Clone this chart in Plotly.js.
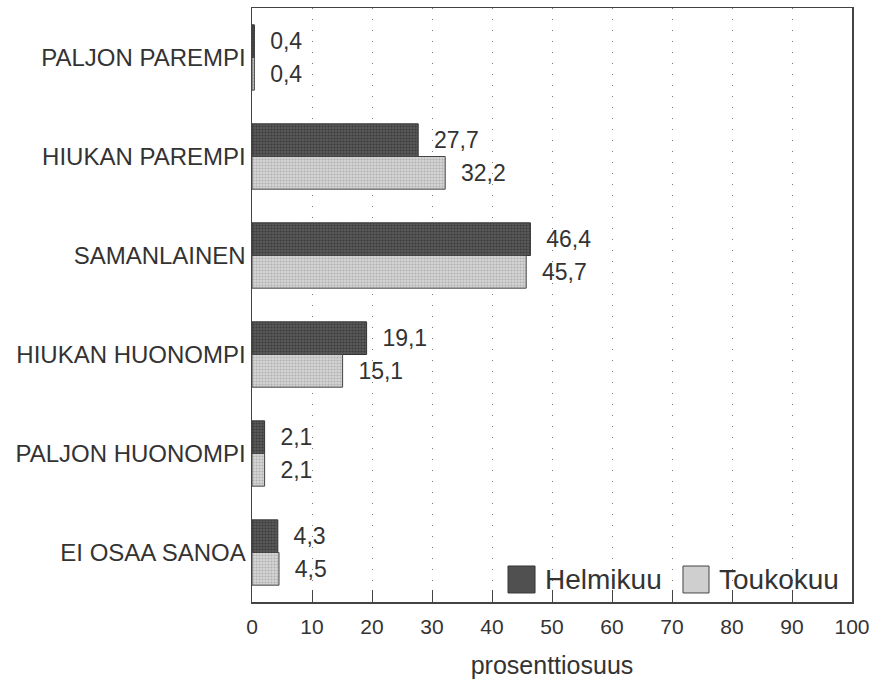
<!DOCTYPE html>
<html>
<head>
<meta charset="utf-8">
<script src="https://cdn.plot.ly/plotly-3.0.1.min.js"></script>
<style>html,body{margin:0;padding:0;background:#fff;}#chart{width:874px;height:679px;}</style>
</head>
<body>
<div id="chart"></div>
<script>
const categories = ["PALJON PAREMPI", "HIUKAN PAREMPI", "SAMANLAINEN", "HIUKAN HUONOMPI", "PALJON HUONOMPI", "EI OSAA SANOA"];
const seriesNames = ["Helmikuu", "Toukokuu"];
const helmikuu = [0.4, 27.7, 46.4, 19.1, 2.1, 4.3];
const toukokuu = [0.4, 32.2, 45.7, 15.1, 2.1, 4.5];
const xTicks = [0, 10, 20, 30, 40, 50, 60, 70, 80, 90, 100];
const xTitle = "prosenttiosuus";

const FONT = "Liberation Sans, Arial, Helvetica, sans-serif";
const fmt = v => "\u00a0\u00a0" + v.toFixed(1).replace(".", ",");

const styles = [
  {bg: "#5a5a5a", fg: "#3a3a3a", line: "#333333", swatch: "#505050"},
  {bg: "#d6d6d6", fg: "#b0b0b0", line: "#444444", swatch: "#cfcfcf"}
];

const traces = [helmikuu, toukokuu].map((vals, i) => ({
  type: "bar",
  orientation: "h",
  name: seriesNames[i],
  y: categories,
  x: vals,
  text: vals.map(fmt),
  textposition: "outside",
  textfont: {family: FONT, size: 23, color: "#333"},
  constraintext: "none",
  cliponaxis: false,
  hoverinfo: "x+y",
  marker: {
    color: styles[i].bg,
    line: {color: styles[i].line, width: 1},
    pattern: {shape: ".", bgcolor: styles[i].bg, fgcolor: styles[i].fg, size: 3, solidity: 0.4}
  }
}));

// manual legend (large swatches, as in the reference)
const legendItems = [
  {x0: 0.4267, x1: 0.4717, tx: 0.485},
  {x0: 0.7183, x1: 0.7617, tx: 0.775}
];
const shapes = legendItems.map((it, i) => ({
  type: "rect", xref: "paper", yref: "paper",
  x0: it.x0, x1: it.x1, y0: 0.0152, y1: 0.0606,
  line: {color: styles[i].line, width: 1},
  fillcolor: styles[i].swatch
}));
const annotations = legendItems.map((it, i) => ({
  xref: "paper", yref: "paper", x: it.tx, y: 0.038,
  xanchor: "left", yanchor: "middle", showarrow: false,
  text: seriesNames[i],
  font: {family: FONT, size: 28, color: "#333"}
}));

const layout = {
  width: 874, height: 679,
  margin: {l: 252, r: 22, t: 8, b: 77},
  paper_bgcolor: "#fff", plot_bgcolor: "#fff",
  barmode: "group", bargap: 0.34, bargroupgap: 0,
  showlegend: false,
  font: {family: FONT, color: "#333"},
  xaxis: {
    range: [0, 100],
    tickvals: xTicks,
    ticktext: xTicks.map(String),
    tickfont: {family: FONT, size: 21, color: "#333"},
    ticks: "inside", ticklen: 12, tickcolor: "#444", tickwidth: 1,
    ticklabelstandoff: 5,
    showline: true, linecolor: "#444", linewidth: 1.5, mirror: true,
    showgrid: true, gridcolor: "#777", gridwidth: 1, griddash: "1px,10px",
    zeroline: false,
    title: {text: xTitle, font: {family: FONT, size: 25, color: "#333"}, standoff: 26}
  },
  yaxis: {
    type: "category",
    autorange: "reversed",
    tickfont: {family: FONT, size: 24, color: "#333"},
    ticks: "", ticklabelstandoff: 0,
    showline: true, linecolor: "#444", linewidth: 1.5, mirror: true,
    showgrid: false, zeroline: false
  },
  shapes: shapes,
  annotations: annotations
};

Plotly.newPlot("chart", traces, layout, {displayModeBar: false, staticPlot: true});
</script>
</body>
</html>
